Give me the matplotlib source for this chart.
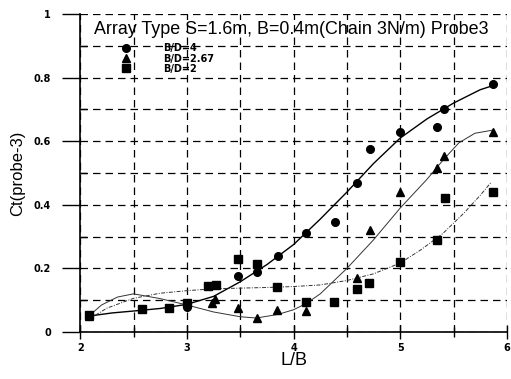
# Ct(probe-3) versus L/B for three B/D ratios, with fitted curves.
import matplotlib
matplotlib.use('Agg')
from matplotlib import pyplot as plt
from matplotlib.ticker import MultipleLocator

lb_bd4 = [2.08, 3.0, 3.48, 3.66, 3.85, 4.12, 4.39, 4.59, 4.72, 5.0, 5.34, 5.41, 5.87]
ct_bd4 = [0.05, 0.08, 0.175, 0.19, 0.24, 0.31, 0.345, 0.47, 0.575, 0.63, 0.645, 0.70, 0.78]

lb_bd267 = [2.08, 3.24, 3.26, 3.48, 3.66, 3.84, 4.12, 4.59, 4.72, 5.0, 5.34, 5.41, 5.87]
ct_bd267 = [0.05, 0.09, 0.105, 0.076, 0.045, 0.07, 0.065, 0.17, 0.32, 0.44, 0.515, 0.555, 0.63]

lb_bd2 = [2.08, 2.58, 2.83, 3.0, 3.2, 3.27, 3.48, 3.66, 3.84, 4.12, 4.38, 4.59, 4.71,
          5.0, 5.34, 5.42, 5.87]
ct_bd2 = [0.053, 0.072, 0.075, 0.09, 0.145, 0.148, 0.23, 0.215, 0.14, 0.094, 0.094,
          0.135, 0.153, 0.22, 0.29, 0.42, 0.44]

# Fitted curves.
fit4_x = [2.08, 2.3, 2.5, 2.75, 3.0, 3.25, 3.5, 3.75, 4.0, 4.25, 4.5, 4.75, 5.0,
          5.25, 5.5, 5.75, 5.87]
fit4_y = [0.05, 0.06, 0.066, 0.074, 0.087, 0.112, 0.158, 0.212, 0.275, 0.355, 0.44,
          0.53, 0.61, 0.67, 0.72, 0.762, 0.775]

fit267_x = [2.08, 2.2, 2.35, 2.5, 2.75, 3.0, 3.25, 3.5, 3.65, 3.85, 4.0, 4.12, 4.25,
            4.5, 4.75, 5.0, 5.25, 5.4, 5.55, 5.7, 5.87]
fit267_y = [0.05, 0.085, 0.11, 0.12, 0.105, 0.085, 0.063, 0.048, 0.044, 0.055, 0.07,
            0.09, 0.12, 0.2, 0.29, 0.39, 0.48, 0.54, 0.595, 0.625, 0.635]

fit2_x = [2.08, 2.25, 2.5, 2.75, 3.0, 3.25, 3.5, 3.75, 4.0, 4.25, 4.5, 4.75, 5.0,
          5.2, 5.4, 5.6, 5.75, 5.85]
fit2_y = [0.04, 0.075, 0.106, 0.122, 0.13, 0.136, 0.138, 0.14, 0.143, 0.148, 0.162,
          0.183, 0.217, 0.26, 0.31, 0.375, 0.43, 0.47]

fig = plt.figure(figsize=(5.11, 3.79), dpi=100)
ax = fig.add_axes([0.157, 0.124, 0.835, 0.839])

ax.plot(fit4_x, fit4_y, color='black', lw=1.0)
ax.plot(fit267_x, fit267_y, color='#333333', lw=0.7)
ax.plot(fit2_x, fit2_y, color='#333333', lw=0.7, ls=(0, (4, 1.5, 1, 1.5)))

ax.plot(lb_bd4, ct_bd4, 'o', color='black', ms=5.5, label='B/D=4')
ax.plot(lb_bd267, ct_bd267, '^', color='black', ms=5.5, label='B/D=2.67')
ax.plot(lb_bd2, ct_bd2, 's', color='black', ms=5.5, label='B/D=2')

ax.set_xlim(2, 6)
ax.set_ylim(0, 1)
ax.xaxis.set_major_locator(MultipleLocator(1))
ax.xaxis.set_minor_locator(MultipleLocator(0.5))
ax.yaxis.set_major_locator(MultipleLocator(0.2))
ax.yaxis.set_minor_locator(MultipleLocator(0.1))
ax.set_xticks([2, 3, 4, 5, 6], ['2', '3', '4', '5', '6'])
ax.set_yticks([0, 0.2, 0.4, 0.6, 0.8, 1], ['0', '0.2', '0.4', '0.6', '0.8', '1'])

# Dashed grid on the half steps of x and tenths of y.
ax.grid(True, which='both', color='black', ls=(0, (6, 4)), lw=0.9)
ax.spines['top'].set_visible(False)
ax.spines['right'].set_visible(False)
ax.spines['left'].set_linewidth(1.2)
ax.spines['bottom'].set_linewidth(1.2)
ax.tick_params(axis='y', which='major', direction='out', length=13, width=1, pad=8,
               labelsize=7)
ax.tick_params(axis='y', which='minor', direction='in', length=5, width=1)
ax.tick_params(axis='x', which='major', direction='inout', length=10, width=1, pad=3,
               labelsize=7)
ax.tick_params(axis='x', which='minor', direction='inout', length=7, width=1)
for lbl in ax.get_xticklabels() + ax.get_yticklabels():
    lbl.set_fontweight('bold')

ax.set_xlabel('L/B', fontsize=13, family='Liberation Sans', labelpad=-1)
ax.set_ylabel('Ct(probe-3)', fontsize=12, family='Liberation Sans', labelpad=6)

ax.text(3.98, 0.95, 'Array Type S=1.6m, B=0.4m(Chain 3N/m) Probe3',
        ha='center', va='center', fontsize=12.9, family='Liberation Sans')

leg = ax.legend(loc='upper left', bbox_to_anchor=(0.065, 0.935), frameon=False,
                handletextpad=2.8, labelspacing=0.02,
                prop={'weight': 'bold', 'size': 7})

fig.savefig('out.png', dpi=100)
